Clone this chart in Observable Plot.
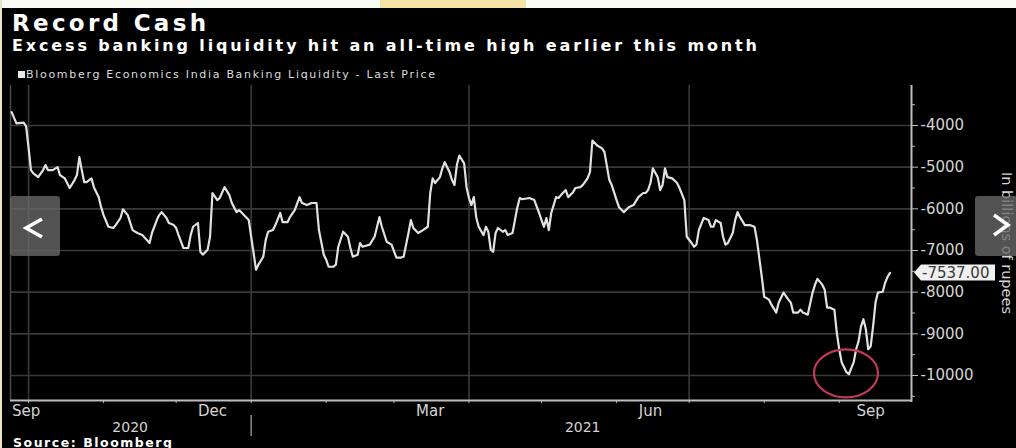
<!DOCTYPE html>
<html>
<head>
<meta charset="utf-8">
<script src="https://cdn.jsdelivr.net/npm/d3@7"></script>
<script src="https://cdn.jsdelivr.net/npm/@observablehq/plot@0.6"></script>
<style>
  html, body { margin: 0; padding: 0; background: #000; width: 1016px; height: 448px; overflow: hidden; }
  #topstrip { position: absolute; left: 0; top: 0; width: 1016px; height: 8px; background: #fbfbf6; }
  #hl { position: absolute; left: 380px; top: 0; width: 146px; height: 8px; background: #f5e2a6; }
  #leftstrip { position: absolute; left: 0; top: 0; width: 2px; height: 448px; background: #ece4c4; }
  #header { position: absolute; left: 0; top: 0; }
  #chart { position: absolute; left: 0; top: 80px; }
  #footer { position: absolute; left: 0; top: 434px; }
  .nav { position: absolute; top: 196px; height: 60px; background: rgba(105,105,105,0.78); border-radius: 3px; }
  svg text { font-family: "DejaVu Sans", sans-serif; }
</style>
</head>
<body>
<div id="topstrip"></div><div id="hl"></div><div id="leftstrip"></div>
<svg id="header" width="1016" height="84">
  <text x="12" y="30.5" fill="#ffffff" font-size="23" font-weight="bold" textLength="194" lengthAdjust="spacing">Record Cash</text>
  <text x="12" y="51" fill="#ffffff" font-size="16" font-weight="bold" textLength="745" lengthAdjust="spacing">Excess banking liquidity hit an all-time high earlier this month</text>
  <rect x="18" y="71" width="7" height="7" fill="#e8e8e8"></rect>
  <text x="26" y="78" fill="#dddddd" font-size="11" textLength="409" lengthAdjust="spacing">Bloomberg Economics India Banking Liquidity - Last Price</text>
</svg>
<div id="chart"></div>
<svg id="footer" width="300" height="16">
  <text x="13" y="13" fill="#ffffff" font-size="12.5" font-weight="bold" textLength="159" lengthAdjust="spacing">Source: Bloomberg</text>
</svg>
<div class="nav" style="left:10px;width:50px;">
  <svg width="50" height="60"><polyline points="32,23 16,32 32,41" fill="none" stroke="#fff" stroke-width="3.5" stroke-linejoin="miter"/></svg>
</div>
<div class="nav" style="left:975px;width:45px;">
  <svg width="45" height="60"><polyline points="19,19 33,29 19,39" fill="none" stroke="#fff" stroke-width="3.5"/></svg>
</div>
<script>
// ---- data ----
const dates = [
"2020-09-24","2020-09-26","2020-09-29","2020-09-30","2020-10-01","2020-10-02","2020-10-03","2020-10-05","2020-10-07","2020-10-08",
"2020-10-09","2020-10-11","2020-10-13","2020-10-14","2020-10-16","2020-10-18","2020-10-20","2020-10-21","2020-10-22","2020-10-23",
"2020-10-24","2020-10-25","2020-10-27","2020-10-28","2020-10-30","2020-10-31","2020-11-01","2020-11-03","2020-11-05","2020-11-06",
"2020-11-08","2020-11-09","2020-11-11","2020-11-13","2020-11-15","2020-11-17","2020-11-20","2020-11-21","2020-11-23","2020-11-24",
"2020-11-25","2020-11-27","2020-11-28","2020-11-30","2020-12-01","2020-12-02","2020-12-04","2020-12-06","2020-12-07","2020-12-08",
"2020-12-10","2020-12-11","2020-12-12","2020-12-14","2020-12-15","2020-12-16","2020-12-18","2020-12-19","2020-12-21","2020-12-23",
"2020-12-24","2020-12-26","2020-12-27","2020-12-29","2020-12-31","2021-01-01","2021-01-02","2021-01-03","2021-01-04","2021-01-06",
"2021-01-07","2021-01-08","2021-01-10","2021-01-11","2021-01-13","2021-01-14","2021-01-16","2021-01-17","2021-01-19","2021-01-21",
"2021-01-22","2021-01-24","2021-01-26","2021-01-28","2021-01-29","2021-01-31","2021-02-01","2021-02-02","2021-02-04","2021-02-05",
"2021-02-06","2021-02-08","2021-02-10","2021-02-11","2021-02-12","2021-02-14","2021-02-15","2021-02-16","2021-02-19","2021-02-21",
"2021-02-23","2021-02-24","2021-02-26","2021-02-28","2021-03-02","2021-03-04","2021-03-05","2021-03-07","2021-03-08","2021-03-09",
"2021-03-11","2021-03-13","2021-03-15","2021-03-16","2021-03-17","2021-03-18","2021-03-20","2021-03-21","2021-03-22","2021-03-24",
"2021-03-25","2021-03-26","2021-03-27","2021-03-28","2021-03-30","2021-03-31","2021-04-01","2021-04-02","2021-04-03","2021-04-04",
"2021-04-05","2021-04-07","2021-04-08","2021-04-09","2021-04-10","2021-04-11","2021-04-12","2021-04-13","2021-04-15","2021-04-16",
"2021-04-17","2021-04-19","2021-04-21","2021-04-22","2021-04-23","2021-04-26","2021-04-28","2021-04-30","2021-05-01","2021-05-02",
"2021-05-03","2021-05-04","2021-05-05","2021-05-07","2021-05-08","2021-05-09","2021-05-11","2021-05-12","2021-05-14","2021-05-15",
"2021-05-17","2021-05-18","2021-05-20","2021-05-21","2021-05-22","2021-05-24","2021-05-26","2021-05-27","2021-05-29","2021-05-30",
"2021-06-01","2021-06-02","2021-06-04","2021-06-06","2021-06-08","2021-06-10","2021-06-12","2021-06-13","2021-06-14","2021-06-15",
"2021-06-16","2021-06-18","2021-06-19","2021-06-20","2021-06-21","2021-06-22","2021-06-24","2021-06-26","2021-06-27","2021-06-29",
"2021-06-30","2021-07-02","2021-07-03","2021-07-04","2021-07-05","2021-07-07","2021-07-09","2021-07-10","2021-07-11","2021-07-12",
"2021-07-14","2021-07-15","2021-07-16","2021-07-17","2021-07-19","2021-07-20","2021-07-21","2021-07-22","2021-07-24","2021-07-26",
"2021-07-28","2021-07-29","2021-07-31","2021-08-01","2021-08-03","2021-08-04","2021-08-06","2021-08-07","2021-08-09","2021-08-11",
"2021-08-12","2021-08-13","2021-08-15","2021-08-16","2021-08-17","2021-08-19","2021-08-21","2021-08-22","2021-08-23","2021-08-25",
"2021-08-26","2021-08-27","2021-08-28","2021-08-30","2021-08-31","2021-09-01","2021-09-02","2021-09-04","2021-09-05","2021-09-07",
"2021-09-08","2021-09-09","2021-09-10","2021-09-11","2021-09-12","2021-09-13","2021-09-14","2021-09-15","2021-09-16","2021-09-17",
"2021-09-19","2021-09-20","2021-09-21","2021-09-22"
];
const values = [
-3680,-3950,-3930,-4020,-4530,-5070,-5150,-5240,-5070,-4950,
-5070,-5070,-5000,-5190,-5270,-5500,-5310,-5190,-4760,-5070,
-5360,-5360,-5270,-5480,-5720,-5960,-6150,-6430,-6460,-6390,
-6220,-6010,-6150,-6510,-6580,-6630,-6820,-6580,-6270,-6150,
-6080,-6220,-6340,-6390,-6460,-6630,-6940,-6940,-6630,-6430,
-6340,-7030,-7100,-6980,-6670,-5620,-5790,-5740,-5480,-5670,
-5860,-6080,-6030,-6150,-6270,-6670,-7060,-7460,-7340,-7150,
-6750,-6550,-6510,-6390,-6100,-6320,-6320,-6200,-6030,-5720,
-5860,-5910,-5860,-5860,-6510,-7100,-7220,-7390,-7390,-7340,
-6910,-6550,-6670,-6940,-7150,-7100,-6820,-6910,-6860,-6670,
-6200,-6430,-6790,-6860,-7170,-7170,-7150,-6580,-6270,-6460,
-6580,-6510,-6430,-5620,-5270,-5380,-5240,-5030,-4880,-5120,
-5310,-5430,-4950,-4720,-4910,-5480,-5740,-5910,-5720,-6200,
-6430,-6630,-6430,-6550,-6980,-7030,-6580,-6460,-6550,-6510,
-6630,-6580,-5960,-5740,-5770,-5740,-5790,-6100,-6270,-6430,
-6220,-6510,-6100,-5720,-5740,-5670,-5550,-5720,-5600,-5500,
-5480,-5430,-5270,-5120,-4360,-4480,-4550,-4640,-5310,-5430,
-5790,-5960,-6080,-5960,-5910,-5720,-5620,-5620,-5550,-5380,
-5030,-5240,-5550,-5430,-5030,-5240,-5270,-5380,-5500,-5790,
-6670,-6820,-6910,-6860,-6510,-6220,-6270,-6430,-6430,-6270,
-6340,-6670,-6860,-6820,-6580,-6270,-6080,-6200,-6390,-6390,
-6430,-6750,-7630,-8110,-8180,-8300,-8490,-8250,-8010,-8180,
-8250,-8490,-8490,-8420,-8490,-8540,-8010,-7820,-7680,-7820,
-7940,-8370,-8370,-8420,-8970,-9370,-9680,-9920,-9970,-9680,
-9370,-9180,-8820,-8650,-8890,-9370,-9300,-8820,-8250,-8010,
-7990,-7770,-7630,-7537
];
const yTicks = [-4000,-5000,-6000,-7000,-8000,-9000,-10000];
const yMinorTicks = [-3500,-4500,-5500,-6500,-7500,-8500,-9500,-10500];
const quarterStarts = ["2020-10-01","2021-01-01","2021-04-01","2021-07-01"];
const monthStarts = ["2020-10-01","2020-11-01","2020-12-01","2021-01-01","2021-02-01","2021-03-01","2021-04-01","2021-05-01","2021-06-01","2021-07-01","2021-08-01","2021-09-01"];
const monthLabelDates = ["2020-09-30","2020-12-16","2021-03-16","2021-06-15","2021-09-14"];
const monthLabelNames = ["Sep","Dec","Mar","Jun","Sep"];
const yearLabelDates = ["2020-11-12","2021-05-18"];
const yearLabelNames = ["2020","2021"];
const yearBoundary = ["2021-01-01"];
const recordLow = {date: "2021-09-04", value: -9960};
const axisTitle = "In billions of rupees";

// ---- build tables ----
const data = dates.map((d, i) => ({date: new Date(d), value: values[i]}));
const monthLabels = monthLabelDates.map((d, i) => ({date: new Date(d), label: monthLabelNames[i]}));
const yearLabels = yearLabelDates.map((d, i) => ({date: new Date(d), label: yearLabelNames[i]}));
const xDomain = [new Date(Date.UTC(2020, 8, 23, 13)), new Date(Date.UTC(2021, 8, 30, 21))];
const yDomain = [-10600, -3040];
const grid = "#3a3a3a";
const axisCol = "#bdbdbd";
const labelCol = "#d4d4d4";

const plot = Plot.plot({
  width: 1016,
  height: 356,
  marginTop: 5,
  marginBottom: 36,
  marginLeft: 10,
  marginRight: 105,
  style: {background: "transparent", color: labelCol, fontFamily: "DejaVu Sans", overflow: "visible"},
  x: {type: "utc", domain: xDomain},
  y: {domain: yDomain},
  marks: [
    Plot.ruleY(yTicks, {stroke: grid, strokeWidth: 1.6}),
    Plot.ruleX(quarterStarts.map(d => new Date(d)), {stroke: grid, strokeWidth: 1.6}),
    Plot.ruleX([xDomain[0]], {stroke: "#4a4a4a", strokeWidth: 1.5}),
    Plot.line(data, {x: "date", y: "value", stroke: "#e2e2e2", strokeWidth: 2.2}),
    // y axis
    Plot.ruleX([xDomain[1]], {stroke: axisCol, strokeWidth: 2, insetBottom: -2}),
    Plot.axisY({anchor: "right", ticks: yTicks, tickSize: 6, tickPadding: 3, tickFormat: d => String(d),
      fontSize: 15, stroke: axisCol, fill: labelCol, label: null}),
    Plot.axisY({anchor: "right", ticks: yMinorTicks, tickSize: 3, tickFormat: () => "", stroke: axisCol, label: null}),
    // x axis
    Plot.ruleY([yDomain[0]], {stroke: axisCol, strokeWidth: 2}),
    Plot.axisX({ticks: monthStarts.map(d => new Date(d)), tickSize: 3, tickFormat: () => "", stroke: axisCol, label: null}),
    Plot.text(monthLabels, {x: "date", text: "label", frameAnchor: "bottom", lineAnchor: "bottom", dy: 15, fontSize: 15, fill: labelCol}),
    Plot.text(yearLabels, {x: "date", text: "label", frameAnchor: "bottom", lineAnchor: "bottom", dy: 31.5, fontSize: 14, fill: labelCol}),
    Plot.ruleX(yearBoundary.map(d => new Date(d)), {stroke: "#8a8a8a", strokeWidth: 1.5, insetTop: 330, insetBottom: -36}),
    // axis title
    Plot.text([axisTitle], {frameAnchor: "right", textAnchor: "middle", dx: 95, rotate: 90, fontSize: 14.5, fill: labelCol})
  ]
});

document.getElementById("chart").appendChild(plot);

// ---- annotations using the plot's own scales ----
const sx = plot.scale("x"), sy = plot.scale("y");
const root = d3.select(plot);
// record-low circle
root.append("ellipse")
  .attr("cx", sx.apply(new Date(recordLow.date)))
  .attr("cy", sy.apply(recordLow.value))
  .attr("rx", 32).attr("ry", 24)
  .attr("fill", "none").attr("stroke", "#c03a54").attr("stroke-width", 2.2);
// last value tag
const last = data[data.length - 1];
const ax = sx.apply(xDomain[1]);
const ly = sy.apply(last.value);
root.append("path")
  .attr("d", `M${ax + 3},${ly} L${ax + 10},${ly - 8} L${ax + 84},${ly - 8} L${ax + 84},${ly + 8} L${ax + 10},${ly + 8} Z`)
  .attr("fill", "#f0f0f0");
root.append("text")
  .attr("x", ax + 11).attr("y", ly + 5.5)
  .attr("text-anchor", "start")
  .attr("font-size", 15).attr("fill", "#3a3a3a")
  .attr("font-family", "DejaVu Sans")
  .text(last.value.toFixed(2));
</script>
</body>
</html>
